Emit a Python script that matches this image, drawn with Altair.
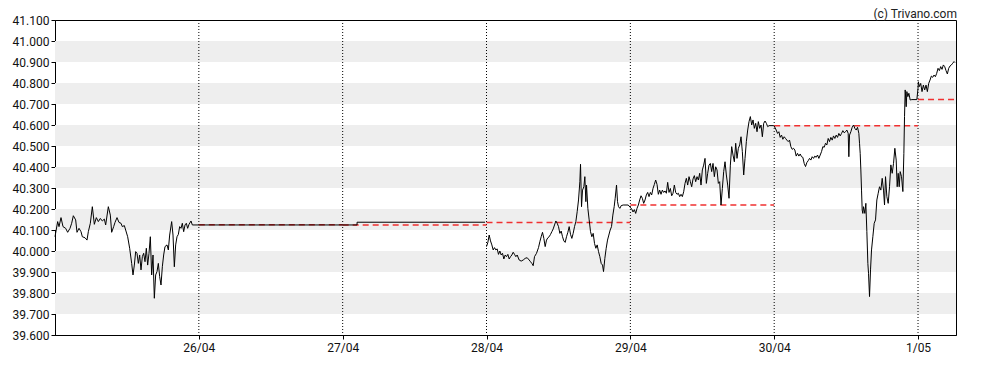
import altair as alt
import pandas as pd

# ---------------- data ----------------
# sample times are counted in steps of 200 s inside each trading day (about 431.5 per day)
DAY_STEPS = 431.5

day_labels = ["26/04", "27/04", "28/04", "29/04", "30/04", "1/05"]
day_marks = [1, 2, 3, 4, 5, 6]

# 25/04
t25 = [0, 8, 12, 18, 24, 32, 38, 45, 50, 55, 62, 66, 72, 78, 82, 90, 96, 100, 106, 112,
       118, 124, 130, 136, 142, 148, 152, 160, 166, 170, 176, 180, 186, 192, 198, 202, 208, 212, 218, 224,
       230, 234, 238, 242, 246, 250, 254, 258, 262, 266, 270, 274, 278, 282, 286, 290, 294, 298, 302, 306,
       310, 314, 318, 322, 326, 330, 336, 340, 344, 350, 354, 358, 362, 366, 370, 374, 378, 382, 386, 390,
       394, 398, 402, 408, 412, 432]
p25 = [40.068, 40.140, 40.116, 40.159, 40.116, 40.108, 40.089, 40.108, 40.132, 40.168,
       40.148, 40.089, 40.108, 40.092, 40.068, 40.063, 40.052, 40.092, 40.132, 40.211,
       40.127, 40.159, 40.140, 40.155, 40.143, 40.152, 40.124, 40.211, 40.171, 40.089,
       40.116, 40.136, 40.159, 40.136, 40.132, 40.116, 40.121, 40.100, 40.068, 40.013,
       39.941, 39.886, 39.933, 39.997, 39.989, 39.941, 39.981, 39.910, 39.973, 39.989,
       39.949, 40.013, 39.933, 39.989, 40.068, 39.886, 39.981, 39.775, 39.886, 39.902,
       39.941, 39.878, 39.838, 39.925, 39.981, 40.021, 40.029, 40.005, 40.076, 40.140,
       40.076, 39.925, 40.029, 40.068, 40.079, 40.116, 40.108, 40.132, 40.092, 40.124,
       40.132, 40.108, 40.127, 40.143, 40.124, 40.124]

# quiet stretch 26/04 - 27/04 (time in days)
flat_x = [2.10, 2.10, 2.99]
flat_p = [40.124, 40.137, 40.137]

# 28/04
t28 = [0, 4, 8, 12, 16, 20, 24, 28, 32, 36, 40, 44, 48, 52, 56, 60, 64, 68, 72, 76,
       80, 84, 88, 92, 98, 104, 110, 116, 122, 128, 132, 136, 140, 144, 150, 156,
       160, 164, 168, 172, 176, 180, 184, 188, 192, 196, 200, 204, 208, 212, 216, 220,
       224, 228, 232, 236, 240, 244, 248, 252, 256, 260, 264, 268, 272, 276, 280,
       282, 285, 288, 292, 295, 298, 300, 304, 308, 312, 316, 320, 324, 328, 332, 336,
       340, 344, 348, 351, 355, 359, 363, 367, 371, 375, 379, 383, 386, 390, 393, 396,
       400, 404, 410, 425]
p28 = [40.021, 40.041, 40.076, 40.048, 40.029, 40.005, 40.016, 40.005, 40.010, 39.984,
       40.000, 39.981, 39.989, 39.962, 39.981, 39.973, 39.984, 39.962, 39.973, 39.981,
       39.994, 39.984, 39.973, 39.981,
       39.957, 39.952, 39.957, 39.965, 39.968, 39.957,
       39.949, 39.941, 39.930, 39.973,
       39.989, 40.016,
       40.044, 40.068, 40.089, 40.060, 40.021, 40.052, 40.063, 40.068, 40.079, 40.092,
       40.105, 40.124, 40.143, 40.132, 40.116, 40.084, 40.095, 40.068, 40.048, 40.041,
       40.068, 40.089, 40.116, 40.079, 40.060, 40.084, 40.116, 40.140, 40.187, 40.243,
       40.330,
       40.413, 40.211, 40.290, 40.306, 40.354, 40.235, 40.314,
       40.203, 40.148, 40.092, 40.068, 40.084, 40.036, 40.013, 40.029, 39.997, 39.973, 39.941, 39.933,
       39.902, 39.965, 40.013, 40.052, 40.076, 40.100, 40.116, 40.171, 40.211,
       40.251, 40.314, 40.235, 40.211, 40.203, 40.216, 40.219, 40.219]

# 29/04
t29 = [4, 8, 12, 16, 20, 24, 28, 32, 36, 40, 44, 48, 52, 56, 60, 64, 68, 72, 76, 80,
       84, 88, 92, 96, 100, 104, 108, 112, 116, 120, 124, 128, 132, 136, 140, 144, 148, 152, 156, 160,
       164, 168, 172, 176, 180, 184, 188, 192, 196, 200, 204, 208, 212, 216, 220, 224, 228, 232, 236, 240,
       244, 248, 252, 256, 260, 264, 268, 272, 276, 280, 284, 288, 292, 296, 300, 304, 308, 312, 316, 320,
       324, 328, 332, 336, 340, 344, 348, 352, 356, 360, 364, 368, 372, 376, 380, 384, 388, 392, 396, 400,
       404, 408, 412, 416, 429]
p29 = [40.200, 40.186, 40.197, 40.179, 40.203, 40.219, 40.243, 40.263, 40.251, 40.227,
       40.243, 40.267, 40.279, 40.259, 40.279, 40.267, 40.298, 40.317, 40.338, 40.317,
       40.270, 40.290, 40.270, 40.290, 40.279, 40.286, 40.275, 40.327, 40.279, 40.298,
       40.263, 40.275, 40.314, 40.279, 40.270, 40.275, 40.259, 40.270, 40.259, 40.282,
       40.322, 40.346, 40.314, 40.354, 40.330, 40.306, 40.343, 40.359, 40.330, 40.354,
       40.338, 40.370, 40.314, 40.386, 40.409, 40.441, 40.322, 40.370, 40.409, 40.417,
       40.378, 40.417, 40.354, 40.401, 40.386, 40.322, 40.330, 40.219, 40.298, 40.378,
       40.425, 40.362, 40.314, 40.251, 40.409, 40.497, 40.457, 40.425, 40.513, 40.441,
       40.489, 40.505, 40.544, 40.473, 40.362, 40.441, 40.521, 40.576, 40.616, 40.640,
       40.600, 40.624, 40.584, 40.608, 40.568, 40.616, 40.584, 40.600, 40.544, 40.608,
       40.619, 40.608, 40.592, 40.597,
       40.597]

# 30/04
t30 = [0, 6, 10, 14, 18, 22, 26, 30, 34, 38,
       42, 46, 50, 54, 58, 62, 66, 70, 74, 78,
       82, 86, 90, 94, 98, 102, 106, 110, 114, 118,
       122, 126, 130, 134, 138, 142, 146, 150, 154, 158,
       162, 166, 170, 174, 178, 182, 186, 190, 194, 198,
       202, 206, 210, 214, 218, 222, 224, 226, 230, 234,
       238, 242, 246, 250, 254, 256, 258, 260, 262, 264,
       266, 268, 272, 275, 278, 281, 283, 286, 289, 292,
       296, 300, 304, 308, 312, 316, 320, 324, 328, 331,
       334, 338, 342, 346, 350, 354, 358, 362, 366, 369,
       372, 375, 378, 382, 386, 389, 391, 393, 396, 398,
       401, 404, 408, 413, 428]
p30 = [40.595, 40.576, 40.560, 40.568, 40.541, 40.552, 40.532, 40.544, 40.536, 40.528,
       40.521, 40.528, 40.497, 40.484, 40.489, 40.481, 40.452, 40.465, 40.452, 40.462,
       40.449, 40.446, 40.417, 40.402, 40.421, 40.430, 40.441, 40.433, 40.449, 40.441,
       40.452, 40.446, 40.457, 40.441, 40.457, 40.473, 40.497, 40.494, 40.513, 40.505,
       40.536, 40.521, 40.541, 40.528, 40.548, 40.536, 40.552, 40.541, 40.560, 40.548,
       40.560, 40.573, 40.563, 40.568, 40.576, 40.560, 40.449, 40.552, 40.568, 40.589,
       40.600, 40.584, 40.576, 40.589, 40.560, 40.513, 40.465, 40.386, 40.290, 40.195,
       40.179, 40.211, 40.179, 40.227, 40.092, 39.941, 39.894, 39.783, 39.910, 40.005,
       40.068, 40.132, 40.148, 40.243, 40.275, 40.306, 40.290, 40.346, 40.290, 40.219,
       40.354, 40.259, 40.227, 40.306, 40.410, 40.370, 40.417, 40.489, 40.433, 40.306,
       40.370, 40.306, 40.378, 40.354, 40.283, 40.465, 40.640, 40.767, 40.687, 40.759,
       40.735, 40.751, 40.719, 40.721, 40.721]

# 1/05
t01 = [0, 1, 4, 8, 12, 16, 20, 24, 28, 32, 36, 40, 44, 48, 52, 56, 60, 64, 68, 72,
       76, 80, 84, 88, 92, 96, 100, 104, 108, 111]
p01 = [40.775, 40.806, 40.783, 40.798, 40.759, 40.790, 40.767, 40.790, 40.759, 40.798,
       40.814, 40.833, 40.827, 40.838, 40.830, 40.846, 40.870, 40.859, 40.878, 40.865,
       40.886, 40.878, 40.859, 40.843, 40.870, 40.881, 40.886, 40.894, 40.902, 40.897]

# previous close per day (red dashed reference)
ref_start = [1, 2, 3, 4, 5, 6]
ref_end = [2, 3, 4, 5, 6, 6.264]
ref_val = [40.125, 40.124, 40.136, 40.219, 40.597, 40.721]

# shaded bands of the value axis
band_lo = [39.7, 39.9, 40.1, 40.3, 40.5, 40.7, 40.9]
band_hi = [39.8, 40.0, 40.2, 40.4, 40.6, 40.8, 41.0]

y_ticks = [39.6, 39.7, 39.8, 39.9, 40.0, 40.1, 40.2, 40.3, 40.4, 40.5, 40.6,
           40.7, 40.8, 40.9, 41.0, 41.1]
x_end = 6.264
credit = "(c) Trivano.com"

# ---------------- build table ----------------
rows = []


def add(seg, day, ticks, prices):
    for t, p in zip(ticks, prices):
        rows.append({"seg": seg, "x": day + t / DAY_STEPS, "p": p, "i": len(rows)})


add("a", 0, t25, p25)
for xv, pv in zip(flat_x, flat_p):
    rows.append({"seg": "a", "x": xv, "p": pv, "i": len(rows)})
add("b", 3, t28, p28)
add("b", 4, t29, p29)
add("b", 5, t30, p30)
add("b", 6, t01, p01)
line_df = pd.DataFrame(rows)

ref_df = pd.DataFrame({"x": ref_start, "x2": ref_end, "v": ref_val})
band_df = pd.DataFrame({"lo": band_lo, "hi": band_hi})
day_df = pd.DataFrame({"d": day_marks})

W, H = 901, 315
FONT = "Roboto"
xs = alt.Scale(domain=[0, x_end], nice=False, zero=False)
ys = alt.Scale(domain=[y_ticks[0], y_ticks[-1]], nice=False, zero=False)

label_expr = "[" + ",".join(["''"] + ["'%s'" % s for s in day_labels]) + "][datum.value]"

x_axis = alt.Axis(values=day_marks, labelExpr=label_expr, grid=False, tickSize=4,
                  labelFontSize=12, labelFont=FONT, labelColor="#111", domainColor="black",
                  tickColor="black", labelPadding=3, title=None)
y_axis = alt.Axis(values=y_ticks, format=".3f", grid=False, tickSize=4,
                  labelFontSize=12, labelFont=FONT, labelColor="#111", domainColor="black",
                  tickColor="black", labelPadding=2, title=None)

bands = alt.Chart(band_df).mark_rect(color="#eeeeee").encode(
    x=alt.datum(0, scale=xs, axis=x_axis),
    x2=alt.datum(x_end),
    y=alt.Y("lo:Q", scale=ys, axis=y_axis),
    y2="hi:Q",
)

vlines = alt.Chart(day_df).mark_rule(color="black", strokeDash=[1, 2], strokeWidth=1).encode(
    x=alt.X("d:Q", scale=xs, axis=x_axis),
)

refs = alt.Chart(ref_df).mark_rule(color="#f03030", strokeDash=[6, 4], strokeWidth=1.5).encode(
    x=alt.X("x:Q", scale=xs, axis=x_axis),
    x2="x2:Q",
    y=alt.Y("v:Q", scale=ys, axis=y_axis),
)

line = alt.Chart(line_df).mark_line(color="black", strokeWidth=1).encode(
    x=alt.X("x:Q", scale=xs, axis=x_axis),
    y=alt.Y("p:Q", scale=ys, axis=y_axis),
    detail="seg:N",
    order="i:Q",
)

text = alt.Chart(pd.DataFrame({"t": [credit]})).mark_text(
    align="right", baseline="middle", fontSize=12, font=FONT, color="#222"
).encode(text="t:N", x=alt.value(W + 1), y=alt.value(-6))

chart = alt.layer(bands, vlines, refs, line, text).properties(
    width=W, height=H,
    autosize=alt.AutoSizeParams(type="none"),
    padding={"left": 47, "top": 12, "right": 24, "bottom": 27},
).configure_view(stroke="black", strokeWidth=1)

chart.save("out.html", embed_options={"renderer": "svg", "actions": False})
